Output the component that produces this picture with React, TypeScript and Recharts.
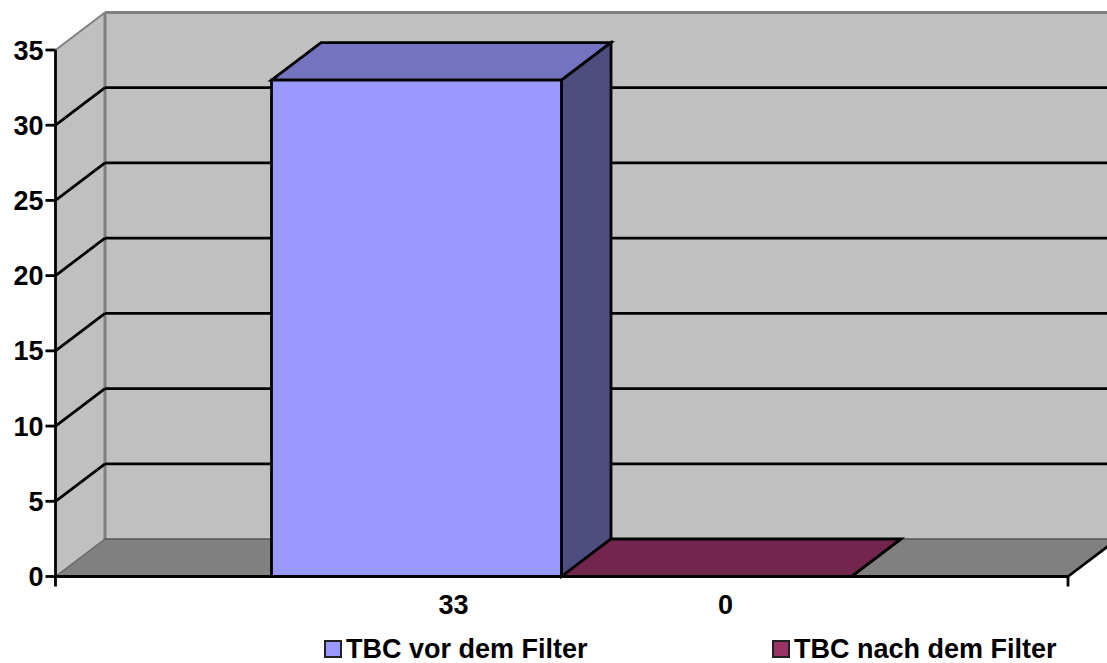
import {
  BarChart,
  Bar,
  XAxis,
  YAxis,
  Legend,
  LabelList,
  ReferenceArea,
  ReferenceLine,
} from 'recharts';

const categories = ['TBC'];
const vorValues = [33];
const nachValues = [0];
const yTicks = [0, 5, 10, 15, 20, 25, 30, 35];
const gridTicks = [5, 10, 15, 20, 25, 30];

const data = categories.map((category, i) => ({
  category,
  vor: vorValues[i],
  nach: nachValues[i],
}));

// depth of the fake 3D box
const DX = 49.5;
const DY = 37.5;
const FONT = '"Liberation Sans", Arial, sans-serif';
const FONT_SIZE = 27;
const LINE = 2.8;

const shiftPoints = (pts: number[][]) => pts.map((p) => p.join(',')).join(' ');

// side wall, back wall and floor, sized from the plot rect
function Walls({ x, y, width, height }: any) {
  const bottom = y + height;
  const right = x + width;
  return (
    <g>
      <rect x={x + DX} y={y - DY} width={width} height={height} fill="#c0c0c0" />
      <polygon
        points={shiftPoints([[x, y], [x + DX, y - DY], [x + DX, bottom - DY], [x, bottom]])}
        fill="#c0c0c0"
      />
      <polygon
        points={shiftPoints([[x, bottom], [x + DX, bottom - DY], [right + DX, bottom - DY], [right, bottom]])}
        fill="#808080"
      />
      <line x1={x + DX} y1={y - DY} x2={x + DX} y2={bottom - DY} stroke="#808080" strokeWidth={3} />
      <line x1={x + DX} y1={y - DY} x2={right + DX} y2={y - DY} stroke="#808080" strokeWidth={3} />
      <line x1={x} y1={y} x2={x + DX} y2={y - DY} stroke="#808080" strokeWidth={2} />
      <line x1={x + DX} y1={bottom - DY} x2={right + DX} y2={bottom - DY} stroke="#555555" strokeWidth={1.5} />
      <line x1={x} y1={bottom} x2={x + DX} y2={bottom - DY} stroke="#666666" strokeWidth={1.5} />
      <line x1={right} y1={bottom} x2={right + DX} y2={bottom - DY} stroke="#000" strokeWidth={LINE} />
      <line x1={x} y1={bottom} x2={x} y2={bottom + 10} stroke="#000" strokeWidth={LINE} />
      <line x1={right} y1={bottom} x2={right} y2={bottom + 10} stroke="#000" strokeWidth={LINE} />
    </g>
  );
}

function GridLine({ x1, y1, x2 }: any) {
  return (
    <g stroke="#000" strokeWidth={LINE} fill="none">
      <line x1={x1} y1={y1} x2={x1 + DX} y2={y1 - DY} />
      <line x1={x1 + DX} y1={y1 - DY} x2={x2 + DX} y2={y1 - DY} />
    </g>
  );
}

const box = (front: string, top: string, side: string) =>
  function Box({ x, y, width, height }: any) {
    const b = y + height;
    const r = x + width;
    return (
      <g stroke="#000" strokeWidth={LINE} strokeLinejoin="miter">
        <polygon points={shiftPoints([[x, y], [x + DX, y - DY], [r + DX, y - DY], [r, y]])} fill={top} />
        <polygon points={shiftPoints([[r, y], [r + DX, y - DY], [r + DX, b - DY], [r, b]])} fill={side} />
        <rect x={x} y={y} width={width} height={height} fill={front} />
      </g>
    );
  };

const valueLabel = (dx: number) =>
  function ValueLabel({ x, width, value }: any) {
    return (
      <text
        x={x + width / 2 + dx}
        y={614}
        textAnchor="middle"
        fontFamily={FONT}
        fontWeight="bold"
        fontSize={FONT_SIZE}
        fill="#000"
      >
        {value}
      </text>
    );
  };

function LegendContent({ payload }: any) {
  const lefts = [324, 772];
  return (
    <div style={{ position: 'relative', height: 28 }}>
      {(payload || []).map((item: any, i: number) => (
        <div
          key={item.value}
          style={{
            position: 'absolute',
            left: lefts[i],
            top: 0,
            display: 'flex',
            alignItems: 'center',
            fontFamily: FONT,
            fontWeight: 'bold',
            fontSize: FONT_SIZE,
            lineHeight: '28px',
            color: '#000',
            whiteSpace: 'nowrap',
          }}
        >
          <span
            style={{
              display: 'inline-block',
              width: 14,
              height: 14,
              background: item.color,
              border: '2.5px solid #222',
              marginRight: 4,
            }}
          />
          {item.value}
        </div>
      ))}
    </div>
  );
}

export default function App() {
  return (
    <div style={{ position: 'absolute', left: 0, top: 0 }}>
      <BarChart
        width={1107}
        height={663}
        data={data}
        margin={{ top: 50, right: 39, bottom: 0, left: 0 }}
        barCategoryGap={216}
        barGap={0}
      >
        <ReferenceArea y1={0} y2={35} ifOverflow="visible" shape={Walls} zIndex={-200} />
        {gridTicks.map((t) => (
          <ReferenceLine key={t} y={t} shape={GridLine} zIndex={-100} />
        ))}
        <XAxis
          dataKey="category"
          height={58.5}
          tick={false}
          tickLine={false}
          axisLine={{ stroke: '#000', strokeWidth: LINE }}
        />
        <YAxis
          width={55.5}
          domain={[0, 35]}
          ticks={yTicks}
          interval={0}
          tickSize={10}
          tickMargin={2}
          tick={{ fontFamily: FONT, fontWeight: 'bold', fontSize: FONT_SIZE, fill: '#000' }}
          tickLine={{ stroke: '#000', strokeWidth: LINE }}
          axisLine={{ stroke: '#000', strokeWidth: LINE }}
        />
        <Legend
          verticalAlign="bottom"
          height={28}
          content={LegendContent}
          wrapperStyle={{ left: 0, width: 1107 }}
          itemSorter={(item: any) => (item.dataKey === 'vor' ? 0 : 1)}
        />
        <Bar
          dataKey="vor"
          name="TBC vor dem Filter"
          fill="#9999ff"
          isAnimationActive={false}
          shape={box('#9999ff', '#7373bf', '#4d4d80')}
        >
          <LabelList dataKey="vor" content={valueLabel(37)} />
        </Bar>
        <Bar
          dataKey="nach"
          name="TBC nach dem Filter"
          fill="#993366"
          isAnimationActive={false}
          shape={box('#993366', '#73264d', '#4d1933')}
        >
          <LabelList dataKey="nach" content={valueLabel(19)} />
        </Bar>
      </BarChart>
    </div>
  );
}
